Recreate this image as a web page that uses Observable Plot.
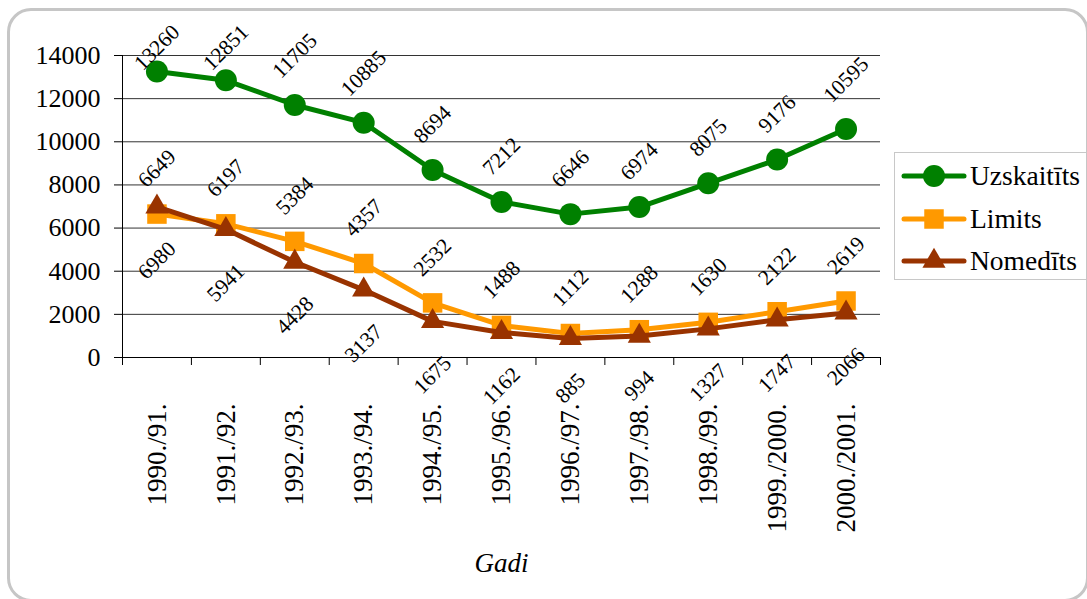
<!DOCTYPE html>
<html>
<head>
<meta charset="utf-8">
<script src="https://cdn.jsdelivr.net/npm/d3@7"></script>
<script src="https://cdn.jsdelivr.net/npm/@observablehq/plot@0.6"></script>
<style>
  html, body { margin: 0; padding: 0; background: #ffffff; }
  #wrap { position: relative; width: 1087px; height: 599px; overflow: hidden; font-family: 'Liberation Serif', serif; }
  #frame { position: absolute; left: 7px; top: 8px; width: 1082px; height: 594px; box-sizing: border-box;
           border: 3px solid #c6c6c6; border-radius: 24px; pointer-events: none; }
  #legend { position: absolute; left: 894px; top: 152px; width: 200px; height: 128px; box-sizing: border-box;
            border: 1.5px solid #c8c8c8; background: #fff; font-family: 'Liberation Serif', serif; }
  .item { position: absolute; left: 6px; height: 30px; display: flex; align-items: center; }
  .item span { font-size: 27.5px; color: #000; margin-left: 3px; line-height: 30px; font-family: 'Liberation Serif', serif; }
</style>
</head>
<body>
<div id="wrap">
  <div id="chart"></div>
  <div id="legend"></div>
  <div id="frame"></div>
</div>
<script>
const categories = ["1990./91.", "1991./92.", "1992./93.", "1993./94.", "1994./95.", "1995./96.",
                    "1996./97.", "1997./98.", "1998./99.", "1999./2000.", "2000./2001."];
const uzskaitits = [13260, 12851, 11705, 10885, 8694, 7212, 6646, 6974, 8075, 9176, 10595];
const limits     = [6649, 6197, 5384, 4357, 2532, 1488, 1112, 1288, 1630, 2122, 2619];
const nomedits   = [6980, 5941, 4428, 3137, 1675, 1162, 885, 994, 1327, 1747, 2066];
const seriesNames = ["Uzskaitīts", "Limits", "Nomedīts"];
const yTicks = [0, 2000, 4000, 6000, 8000, 10000, 12000, 14000];
const xLabel = "Gadi";

const W = 1087, H = 599, mL = 122, mR = 207, mT = 55, mB = 242;
const yMax = 14000;
const unitsPerPx = yMax / (H - mT - mB);
const labelFont = 21.5;
const halfH = s => (String(s).length * 0.5 * labelFont + 0.7 * labelFont) * 0.7071 / 2;
const topCapPx = 47;
const labelCap = (H - mB - topCapPx) * unitsPerPx;
const FONT = "'Liberation Serif', serif";

const series = [
  {name: seriesNames[0], values: uzskaitits, color: "#008000", symbol: "circle",   r: 11,  pos: "above"},
  {name: seriesNames[1], values: limits,     color: "#FF9900", symbol: "square",   r: 11,  pos: "above"},
  {name: seriesNames[2], values: nomedits,   color: "#993300", symbol: "triangle", r: 8.6, pos: "below"}
];

const idx = d3.range(categories.length);
const xc = i => i + 0.5;

const seriesMarks = series.flatMap(s => [
  Plot.line(idx, {x: xc, y: i => s.values[i], stroke: s.color, strokeWidth: 5, strokeLinejoin: "round"}),
  Plot.dot(idx, {x: xc, y: i => s.values[i], symbol: s.symbol, r: s.r, fill: s.color, stroke: "none"}),
  Plot.text(idx, {
    x: xc,
    y: i => {
      const v = s.values[i];
      if (s.pos === "above") return Math.min(v + (25 + halfH(v)) * unitsPerPx, labelCap);
      return v - (33 + halfH(v)) * unitsPerPx;
    },
    text: i => String(s.values[i]),
    rotate: -45, textAnchor: "middle", lineAnchor: "middle",
    fontSize: labelFont, fill: "#000"
  })
]);

const chart = Plot.plot({
  width: W, height: H,
  marginLeft: mL, marginRight: mR, marginTop: mT, marginBottom: mB,
  style: {fontFamily: FONT, background: "transparent", color: "#000", overflow: "visible"},
  x: {domain: [0, categories.length], axis: null},
  y: {domain: [0, yMax], axis: null},
  marks: [
    Plot.gridY(yTicks, {stroke: "#333333", strokeOpacity: 1, strokeWidth: 1}),
    Plot.axisY(yTicks, {tickSize: 8, tickPadding: 14, fontSize: 26, tickFormat: d3.format("d"), label: null, stroke: "#000"}),
    Plot.ruleX([0], {stroke: "#000", strokeWidth: 1}),
    Plot.ruleY([0], {stroke: "#000", strokeWidth: 1}),
    Plot.axisX(d3.range(categories.length + 1), {tickSize: 8, tickFormat: () => "", label: null, stroke: "#000"}),
    Plot.axisX(idx.map(xc), {
      tickSize: 0, tickPadding: 46, tickRotate: -90, fontSize: 27,
      tickFormat: v => categories[Math.floor(v)],
      label: xLabel, labelAnchor: "center", labelArrow: "none", labelOffset: 214
    }),
    ...seriesMarks
  ]
});
document.getElementById("chart").appendChild(chart);
chart.querySelectorAll('g[aria-label="x-axis label"] text').forEach(t => { t.setAttribute("font-style", "italic"); t.setAttribute("font-size", "27"); });

// Legend
const legend = document.getElementById("legend");
const rowTops = [8, 51, 93];
series.forEach((s, k) => {
  const item = document.createElement("div");
  item.className = "item";
  item.style.top = rowTops[k] + "px";
  const svg = d3.create("svg").attr("width", 66).attr("height", 30);
  svg.append("line").attr("x1", 3).attr("x2", 63).attr("y1", 15).attr("y2", 15)
    .attr("stroke", s.color).attr("stroke-width", 5).attr("stroke-linecap", "round");
  const sym = {circle: d3.symbolCircle, square: d3.symbolSquare, triangle: d3.symbolTriangle}[s.symbol];
  svg.append("path").attr("transform", "translate(33,15)")
    .attr("d", d3.symbol(sym, Math.PI * s.r * s.r)()).attr("fill", s.color);
  item.appendChild(svg.node());
  const span = document.createElement("span");
  span.textContent = s.name;
  item.appendChild(span);
  legend.appendChild(item);
});
</script>
</body>
</html>
